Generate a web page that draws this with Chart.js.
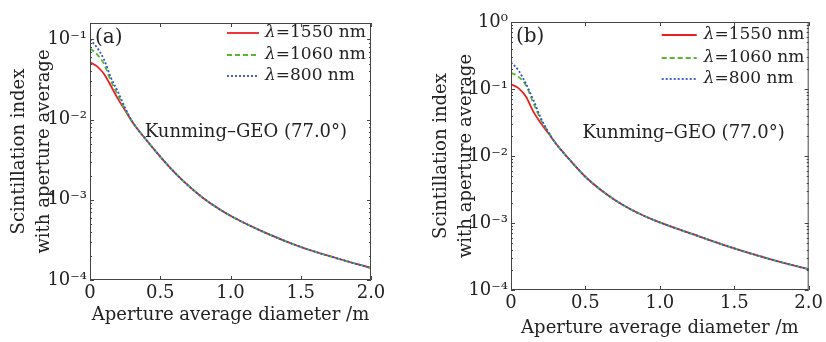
<!DOCTYPE html>
<html>
<head>
<meta charset="utf-8">
<script src="https://cdn.jsdelivr.net/npm/chart.js@4.4.0/dist/chart.umd.min.js"></script>
<style>
  html, body { margin: 0; padding: 0; background: #fff; }
  #wrap { position: relative; width: 826px; height: 342px; }
  .panel { position: absolute; top: 0; width: 413px; height: 342px; }
  #pa { left: 0; }
  #pb { left: 413px; }
</style>
</head>
<body>
<div id="wrap">
  <div class="panel" id="pa"><canvas id="chartA" width="413" height="342"></canvas></div>
  <div class="panel" id="pb"><canvas id="chartB" width="413" height="342"></canvas></div>
</div>
<script>
// aperture diameter (m)
const diameter = [0, 0.05, 0.1, 0.15, 0.2, 0.25, 0.3, 0.4, 0.5, 0.6, 0.7, 0.8, 0.9, 1.0, 1.25, 1.5, 1.75, 2.0];

// (a) scintillation index
const a1550 = [0.052, 0.046, 0.037, 0.026, 0.018, 0.013, 0.0094, 0.0056, 0.00345, 0.00221, 0.0015, 0.00107, 0.000806, 0.000631, 0.000387, 0.000258, 0.000188, 0.000141];
const a1060 = [0.077, 0.065, 0.049, 0.030, 0.020, 0.0133, 0.0094, 0.0056, 0.00345, 0.00221, 0.0015, 0.00107, 0.000806, 0.000631, 0.000387, 0.000258, 0.000188, 0.000141];
const a800  = [0.100, 0.079, 0.056, 0.033, 0.022, 0.014, 0.0095, 0.0056, 0.00345, 0.00221, 0.0015, 0.00107, 0.000806, 0.000631, 0.000387, 0.000258, 0.000188, 0.000141];

// (b) scintillation index
const b1550 = [0.118, 0.103, 0.077, 0.046, 0.031, 0.022, 0.0155, 0.0085, 0.0049, 0.00316, 0.00219, 0.00162, 0.00126, 0.00102, 0.000646, 0.000417, 0.000285, 0.000204];
const b1060 = [0.175, 0.152, 0.114, 0.062, 0.035, 0.023, 0.0155, 0.0085, 0.0049, 0.00316, 0.00219, 0.00162, 0.00126, 0.00102, 0.000646, 0.000417, 0.000285, 0.000204];
const b800  = [0.250, 0.190, 0.120, 0.069, 0.037, 0.023, 0.0155, 0.0085, 0.0049, 0.00316, 0.00219, 0.00162, 0.00126, 0.00102, 0.000646, 0.000417, 0.000285, 0.000204];

const seriesLabels = ['λ=1550 nm', 'λ=1060 nm', 'λ=800 nm'];
const xTicks = [0, 0.5, 1.0, 1.5, 2.0];
const siteLabel = 'Kunming–GEO (77.0°)';
const xTitle = 'Aperture average diameter /m';
const yTitle = ['Scintillation index', 'with aperture average'];

const FONT = '"DejaVu Serif", "Liberation Serif", serif';
const textColor = '#222';
const axisColor = '#444';
const lineColors = ['rgb(236,32,36)', 'rgb(88,184,48)', 'rgb(48,84,204)'];
const lineDash = [[], [5, 3], [2, 2]];

const sup = { '-': '⁻', '0': '⁰', '1': '¹', '2': '²', '3': '³', '4': '⁴' };
function powLabel(v) {
    const e = Math.log10(v);
    if (Math.abs(e - Math.round(e)) > 1e-6) return '';
    return '10' + String(Math.round(e)).split('').map(c => sup[c]).join('');
}

function makeSets(values) {
    return values.map((vals, i) => ({
        label: seriesLabels[i],
        data: diameter.map((d, k) => ({ x: d, y: vals[k] })),
        borderColor: lineColors[i],
        borderWidth: 1.8,
        borderDash: lineDash[i],
        pointRadius: 0,
        cubicInterpolationMode: 'monotone',
        fill: false,
        order: 3 - i   // blue dotted on top
    }));
}

// box, inward ticks, legend and notes
const decor = {
    id: 'decor',
    afterDatasetsDraw(chart, args, o) {
        const { ctx, chartArea: ca, scales: { x, y } } = chart;
        ctx.save();
        ctx.strokeStyle = axisColor;
        ctx.lineWidth = 1;
        ctx.strokeRect(ca.left + 0.5, ca.top + 0.5, ca.right - ca.left - 1, ca.bottom - ca.top - 1);
        ctx.beginPath();
        xTicks.forEach(t => {
            const px = Math.round(x.getPixelForValue(t)) + 0.5;
            ctx.moveTo(px, ca.bottom); ctx.lineTo(px, ca.bottom - 4);
            ctx.moveTo(px, ca.top); ctx.lineTo(px, ca.top + 4);
        });
        for (let d = -4; d <= 0; d++) {
            for (let m = 1; m <= 9; m++) {
                const v = m * Math.pow(10, d);
                if (v < y.min * 0.999 || v > y.max * 1.001) continue;
                const py = Math.round(y.getPixelForValue(v)) + 0.5;
                const len = m === 1 ? 4 : 2;
                ctx.moveTo(ca.left, py); ctx.lineTo(ca.left + len, py);
                ctx.moveTo(ca.right, py); ctx.lineTo(ca.right - len, py);
            }
        }
        ctx.stroke();

        // legend
        ctx.textBaseline = 'middle';
        ctx.textAlign = 'left';
        chart.data.datasets.forEach((ds, i) => {
            const yy = ca.top + o.rows[i];
            ctx.strokeStyle = ds.borderColor;
            ctx.lineWidth = ds.borderWidth;
            ctx.setLineDash(ds.borderDash);
            ctx.beginPath();
            ctx.moveTo(ca.right - o.lineStart, yy);
            ctx.lineTo(ca.right - o.lineEnd, yy);
            ctx.stroke();
            ctx.setLineDash([]);
            let tx = ca.right - o.textStart;
            ctx.fillStyle = textColor;
            ctx.font = 'italic 17px ' + FONT;
            ctx.fillText(ds.label.slice(0, 1), tx, yy);
            tx += ctx.measureText(ds.label.slice(0, 1)).width;
            ctx.font = '17px ' + FONT;
            ctx.fillText(ds.label.slice(1), tx, yy);
        });

        ctx.font = '20px ' + FONT;
        ctx.fillText(o.panel, ca.left + o.panelX, ca.top + o.panelY);
        ctx.font = '18px ' + FONT;
        ctx.fillText(siteLabel, x.getPixelForValue(o.noteX), y.getPixelForValue(o.noteY));
        ctx.restore();
    }
};

function makeChart(id, values, s) {
    return new Chart(document.getElementById(id).getContext('2d'), {
        type: 'line',
        data: { datasets: makeSets(values) },
        plugins: [decor],
        options: {
            responsive: false,
            animation: false,
            layout: { padding: { top: s.top, right: s.right, left: 0, bottom: 0 } },
            scales: {
                x: {
                    type: 'linear', min: 0, max: 2,
                    afterFit: sc => { sc.height = s.xHeight; },
                    grid: { display: false, drawTicks: false },
                    border: { display: false },
                    ticks: {
                        stepSize: 0.5, padding: s.xTickPad, color: textColor,
                        font: { family: FONT, size: 18 },
                        callback: v => v === 0 ? '0' : v.toFixed(1)
                    },
                    title: {
                        display: true, text: xTitle, color: textColor,
                        font: { family: FONT, size: 18 },
                        padding: { top: 0, bottom: s.xTitlePad }
                    }
                },
                y: {
                    type: 'logarithmic', min: 1e-4, max: s.yMax,
                    afterFit: sc => { sc.width = s.yWidth; },
                    grid: { display: false, drawTicks: false },
                    border: { display: false },
                    ticks: {
                        autoSkip: false, padding: 3, color: textColor,
                        font: { family: FONT, size: 18 },
                        callback: v => powLabel(v)
                    },
                    title: {
                        display: true, text: yTitle, color: textColor,
                        font: { family: FONT, size: 18, lineHeight: 1.4 },
                        padding: { top: s.yTitlePad, bottom: 0 }
                    }
                }
            },
            plugins: {
                legend: { display: false },
                tooltip: { enabled: false },
                decor: s.decor
            }
        }
    });
}

makeChart('chartA', [a1550, a1060, a800], {
    top: 23, right: 42, xHeight: 62, yWidth: 90, yMax: 0.16,
    xTickPad: 3, xTitlePad: 16, yTitlePad: 7,
    decor: { rows: [10, 32, 53], lineStart: 144, lineEnd: 112, textStart: 106,
             panel: '(a)', panelX: 5, panelY: 15, noteX: 0.39, noteY: 0.0069 }
});

makeChart('chartB', [b1550, b1060, b800], {
    top: 22, right: 16, xHeight: 52, yWidth: 98, yMax: 1,
    xTickPad: 3, xTitlePad: 3, yTitlePad: 16,
    decor: { rows: [13, 36, 57], lineStart: 147, lineEnd: 112, textStart: 105,
             panel: '(b)', panelX: 5, panelY: 15, noteX: 0.48, noteY: 0.022 }
});
</script>
</body>
</html>
